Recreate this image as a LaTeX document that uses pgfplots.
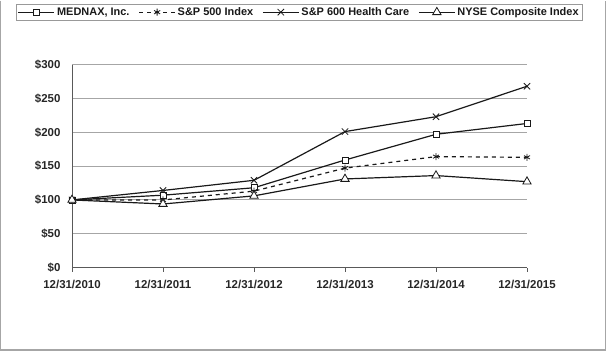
\documentclass[border=0pt]{standalone}
\usepackage{fontspec}
\setmainfont{Liberation Sans}
\usepackage{pgfplots}
\pgfplotsset{compat=1.18}
\begin{document}
\begin{tikzpicture}
\path (0bp,0bp) rectangle (606bp,350bp);
\draw[gray!70, line width=1.2bp] (0.6bp,350bp) -- (0.6bp,0.6bp) -- (605.4bp,0.6bp) -- (605.4bp,350bp);
\begin{axis}[
  at={(72bp,83bp)}, anchor=south west,
  scale only axis, width=455bp, height=203bp,
  xmin=0, xmax=5, ymin=0, ymax=300,
  xtick={0,1,2,3,4,5},
  xticklabels={12/31/2010,12/31/2011,12/31/2012,12/31/2013,12/31/2014,12/31/2015},
  ytick={0,50,100,150,200,250,300},
  yticklabels={\$0,\$50,\$100,\$150,\$200,\$250,\$300},
  axis x line*=bottom, axis y line*=left,
  axis line style={black!65, line width=0.9bp},
  ymajorgrids, grid style={black!35, line width=0.9bp},
  tick align=outside, major tick length=4bp,
  xtick style={black!65, line width=0.9bp},
  ytick style={draw=none},
  ticklabel style={font=\fontsize{11.5}{13}\selectfont\bfseries, text=black!85},
  yticklabel style={xshift=-4bp},
  xticklabel style={yshift=-5bp},
  legend columns=4,
  legend cell align=left,
  legend style={at={(-0.1231,1.3005)}, anchor=north west, draw=black!40, line width=0.8bp,
    font=\fontsize{11}{12}\selectfont\bfseries, text=black!90, inner sep=1.5bp,
    /tikz/every even column/.append style={column sep=7bp}},
  legend image code/.code={\draw[mark repeat=2,mark phase=2] plot coordinates {(0bp,0bp)(18bp,0bp)(36bp,0bp)};},
  every axis plot/.append style={line width=1.2bp, black!90},
]
\addplot[mark=square*, mark size=3bp, mark options={solid, fill=white, line width=0.8bp}]
  coordinates {(0,100)(1,107)(2,118)(3,159)(4,197)(5,213)};
\addlegendentry{MEDNAX, Inc.}
\addplot[dash pattern=on 4bp off 4bp, mark=asterisk, mark size=3.5bp, mark options={solid, line width=0.8bp}]
  coordinates {(0,100)(1,100)(2,113)(3,147)(4,164)(5,163)};
\addlegendentry{S\&P 500 Index}
\addplot[mark=x, mark size=4.5bp, mark options={solid, line width=0.8bp}]
  coordinates {(0,100)(1,114)(2,129)(3,201)(4,223)(5,268)};
\addlegendentry{S\&P 600 Health Care}
\addplot[mark=triangle*, mark size=4.8bp, mark options={solid, fill=white, line width=0.8bp}]
  coordinates {(0,100)(1,94)(2,106)(3,131)(4,136)(5,127)};
\addlegendentry{NYSE Composite Index}
\end{axis}
\end{tikzpicture}
\end{document}
